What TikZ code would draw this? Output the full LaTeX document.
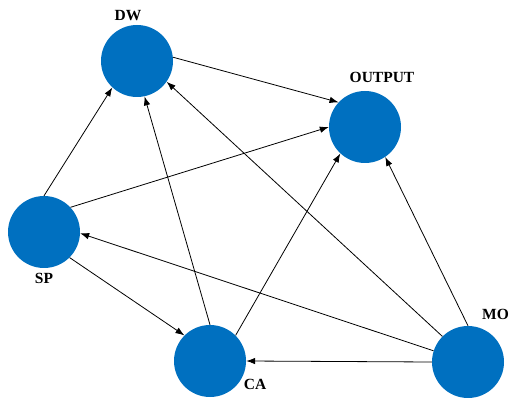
\documentclass[tikz,border=0pt]{standalone}
\usepackage{fontspec}
\setmainfont{Liberation Serif}
\usetikzlibrary{arrows.meta}
\begin{document}
\begin{tikzpicture}[x=1pt,y=-1pt,
  vertex/.style={circle,fill=vblue,draw=none,minimum size=72pt,inner sep=0pt},
  lbl/.style={font=\fontsize{15.5}{18}\selectfont\bfseries,inner sep=0pt},
  edge/.style={line width=0.8pt,-{Latex[length=9pt,width=6.5pt]}}]
\definecolor{vblue}{HTML}{0070C0}
\useasboundingbox (0,0) rectangle (509,398);
\node[vertex] (DW) at (137,61) {};
\node[vertex] (OUT) at (365,127) {};
\node[vertex] (SP) at (44,232) {};
\node[vertex] (CA) at (210,361) {};
\node[vertex] (MO) at (468,362) {};
\node[lbl] (lDW) at (128,16) {DW};
\node[lbl] (lOUT) at (382,77) {OUTPUT};
\node[lbl] (lSP) at (44,278) {SP};
\node[lbl] (lCA) at (255,384) {CA};
\node[lbl,anchor=west] (lMO) at (482,314) {MO};
\draw[edge] (DW.6) -- (OUT.137);
\draw[edge] (SP.90) -- (DW.227);
\draw[edge] (CA.90) -- (DW.282);
\draw[edge] (MO.135) -- (DW.325);
\draw[edge] (SP.43) -- (OUT.180);
\draw[edge] (CA.45) -- (OUT.227);
\draw[edge] (MO.90) -- (OUT.304);
\draw[edge] (MO.162) -- (SP.-2);
\draw[edge] (SP.315) -- (CA.135);
\draw[edge] (MO.180) -- (CA.0);
\end{tikzpicture}
\end{document}
